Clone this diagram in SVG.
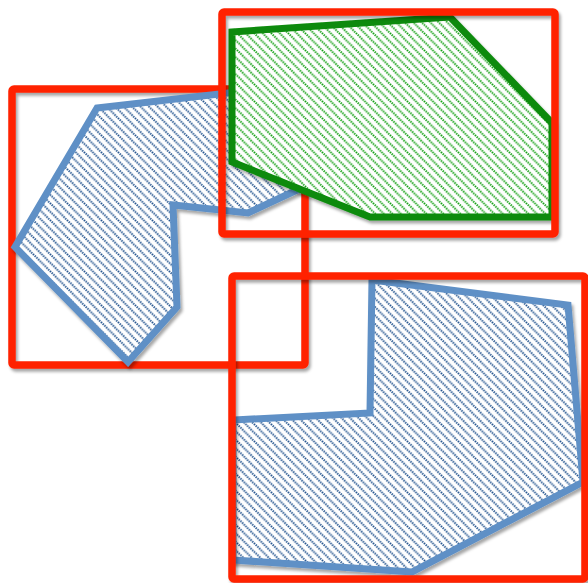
<svg xmlns="http://www.w3.org/2000/svg" width="588" height="583" viewBox="0 0 588 583">
<style>
.frame{fill:none;stroke:#FF2400;stroke-width:7.5;filter:url(#sh)}
.blue{stroke:#5F90C6;stroke-width:7;stroke-linejoin:miter;filter:url(#sh)}
.green{stroke:#0A8A0A;stroke-width:7;stroke-linejoin:miter;filter:url(#sh)}
</style>
<defs>
<filter id="sh" x="-10%" y="-10%" width="120%" height="120%">
<feDropShadow dx="2" dy="3" stdDeviation="1.8" flood-color="#000" flood-opacity="0.35"/>
</filter>
<pattern id="hb" patternUnits="userSpaceOnUse" width="8.5" height="8.5">
<rect width="8.5" height="8.5" fill="#fff"/>
<path d="M-1,-1 L9.5,9.5 M-1,7.5 L1,9.5 M7.5,-1 L9.5,1" stroke="#23548F" stroke-width="2" stroke-dasharray="1.4 1"/>
</pattern>
<pattern id="hg" patternUnits="userSpaceOnUse" width="8.5" height="8.5">
<rect width="8.5" height="8.5" fill="#fff"/>
<path d="M-1,-1 L9.5,9.5 M-1,7.5 L1,9.5 M7.5,-1 L9.5,1" stroke="#12A012" stroke-width="2" stroke-dasharray="1.4 1"/>
</pattern>
</defs>
<g id="frameA"><rect class="frame" x="12" y="89" width="293" height="276" rx="2"/></g>
<g id="region1"><polygon class="blue" fill="url(#hb)" points="97,108 290,86 297,190 248,213 173,205 177,307 128,362 15,247"/></g>
<g id="region3"><polygon class="green" fill="url(#hg)" points="232,32 450,17 552,123 552,217 370,217 232,162"/></g>
<g id="frameB"><rect class="frame" x="222" y="12" width="333" height="222" rx="2"/></g>
<g id="region2"><polygon class="blue" fill="url(#hb)" points="372,280 568,305 583,482 412,572 233,560 233,420 370,413"/></g>
<g id="frameC"><rect class="frame" x="232" y="276" width="353" height="303" rx="2"/></g>
<g id="connectors"></g>
</svg>
